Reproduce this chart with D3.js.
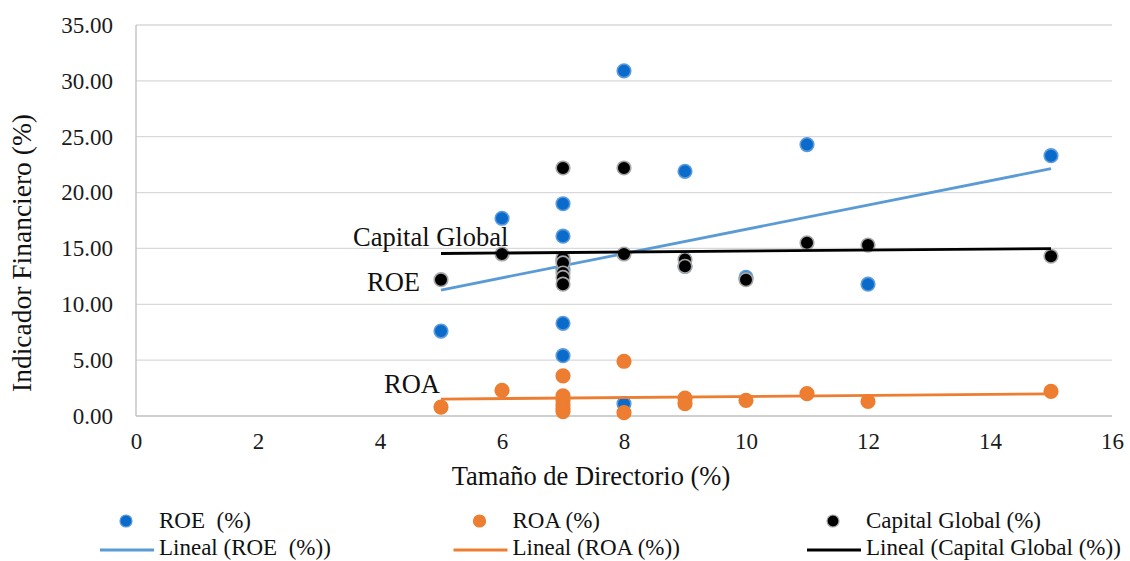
<!DOCTYPE html>
<html>
<head>
<meta charset="utf-8">
<script src="https://cdn.jsdelivr.net/npm/d3@7/dist/d3.min.js"></script>
<style>
  html, body { margin: 0; padding: 0; background: #fff; }
  svg { display: block; }
  svg text { font-family: "Liberation Serif", "Times New Roman", serif; white-space: pre; }
</style>
</head>
<body>
<svg id="chart" width="1130" height="561"></svg>
<script>
// Board size (x) for each observation
const boardSize = [5, 6, 7, 7, 7, 7, 7, 7, 8, 8, 9, 9, 10, 11, 12, 15];
// Financial indicators (%) for each observation
const roe = [7.6, 17.7, 19.0, 16.1, 13.9, 13.1, 8.3, 5.4, 30.9, 1.1, 21.9, 13.4, 12.4, 24.3, 11.8, 23.3];
const roa = [0.8, 2.3, 3.6, 1.8, 1.4, 1.0, 0.7, 0.4, 4.9, 0.3, 1.6, 1.1, 1.4, 2.0, 1.3, 2.2];
const capitalGlobal = [12.2, 14.5, 22.2, 14.1, 13.7, 12.8, 12.4, 11.8, 22.2, 14.5, 14.0, 13.4, 12.2, 15.5, 15.3, 14.3];

const xTicks = [0, 2, 4, 6, 8, 10, 12, 14, 16];
const yTicks = [0, 5, 10, 15, 20, 25, 30, 35];

const series = [
  { name: "ROE  (%)", trend: "Lineal (ROE  (%))", values: roe, fill: "#0B6BCB", stroke: "#5C9BDD", line: "#5B9BD5" },
  { name: "ROA (%)", trend: "Lineal (ROA (%))", values: roa, fill: "#ED7D31", stroke: "#ED7D31", line: "#ED7D31" },
  { name: "Capital Global (%)", trend: "Lineal (Capital Global (%))", values: capitalGlobal, fill: "#000000", stroke: "#A6A6A6", line: "#000000" }
];

const FONT = '"Liberation Serif", "Times New Roman", serif';
const svg = d3.select("#chart");
const x = d3.scaleLinear().domain([0, 16]).range([136, 1112]);
const y = d3.scaleLinear().domain([0, 35]).range([416, 25]);

// Horizontal gridlines
svg.append("g").selectAll("line").data(yTicks.filter(d => d > 0)).join("line")
  .attr("x1", x(0)).attr("x2", x(16))
  .attr("y1", d => y(d)).attr("y2", d => y(d))
  .attr("stroke", "#D9D9D9").attr("stroke-width", 1.3);

// Axis lines
svg.append("line").attr("x1", x(0)).attr("x2", x(0)).attr("y1", y(35)).attr("y2", y(0))
  .attr("stroke", "#BFBFBF").attr("stroke-width", 1.3);
svg.append("line").attr("x1", x(0)).attr("x2", x(16)).attr("y1", y(0)).attr("y2", y(0))
  .attr("stroke", "#BFBFBF").attr("stroke-width", 1.5);

// Y axis tick labels
const yAxis = d3.axisLeft(y).tickValues(yTicks).tickFormat(d3.format(".2f")).tickSize(0).tickPadding(0);
svg.append("g").attr("transform", `translate(${x(0) - 23},0)`).call(yAxis)
  .attr("font-family", null).attr("font-size", null)
  .call(g => g.select(".domain").remove())
  .selectAll("text").style("font-family", FONT).style("font-size", "23px").attr("fill", "#1a1a1a");

// X axis tick labels
const xAxis = d3.axisBottom(x).tickValues(xTicks).tickFormat(d3.format("d")).tickSize(0).tickPadding(0);
svg.append("g").attr("transform", `translate(0,${y(0) + 17})`).call(xAxis)
  .attr("font-family", null).attr("font-size", null)
  .call(g => g.select(".domain").remove())
  .selectAll("text").style("font-family", FONT).style("font-size", "23px").attr("fill", "#1a1a1a");

// Axis titles
svg.append("text").attr("x", 591).attr("y", 485).attr("text-anchor", "middle")
  .style("font-size", "26.5px").attr("fill", "#111").text("Tamaño de Directorio (%)");
svg.append("text").attr("transform", "translate(31,253) rotate(-90)").attr("text-anchor", "middle")
  .style("font-size", "27.5px").attr("fill", "#111").text("Indicador Financiero (%)");

// Least squares fit
function linearFit(xs, ys) {
  const mx = d3.mean(xs), my = d3.mean(ys);
  let sxy = 0, sxx = 0;
  xs.forEach((xv, i) => { sxy += (xv - mx) * (ys[i] - my); sxx += (xv - mx) * (xv - mx); });
  const slope = sxy / sxx;
  return xv => my + slope * (xv - mx);
}

const xExtent = d3.extent(boardSize);

series.forEach(s => {
  const pts = boardSize.map((b, i) => ({ b, v: s.values[i] }));
  svg.append("g").selectAll("circle").data(pts).join("circle")
    .attr("cx", d => x(d.b)).attr("cy", d => y(d.v)).attr("r", 6.8)
    .attr("fill", s.fill).attr("stroke", s.stroke).attr("stroke-width", 1.6);
  const fit = linearFit(boardSize, s.values);
  svg.append("line")
    .attr("x1", x(xExtent[0])).attr("y1", y(fit(xExtent[0])))
    .attr("x2", x(xExtent[1])).attr("y2", y(fit(xExtent[1])))
    .attr("stroke", s.line).attr("stroke-width", 2.8);
});

// Series labels placed beside the trendlines
const labelPos = [
  { text: "ROE", x: 367, y: 291 },
  { text: "ROA", x: 384, y: 393 },
  { text: "Capital Global", x: 353, y: 246 }
];
svg.append("g").selectAll("text").data(labelPos).join("text")
  .attr("x", d => d.x).attr("y", d => d.y).style("font-size", "26.5px").attr("fill", "#111")
  .text(d => d.text);

// Legend
const legendX = [126, 479.5, 833];
const legend = svg.append("g");
series.forEach((s, i) => {
  const lx = legendX[i];
  legend.append("circle").attr("cx", lx).attr("cy", 521).attr("r", 6)
    .attr("fill", s.fill).attr("stroke", s.stroke).attr("stroke-width", 1.2);
  legend.append("text").attr("x", lx + 33).attr("y", 528).style("font-size", "23px").attr("fill", "#111")
    .text(s.name);
  legend.append("line").attr("x1", lx - 26).attr("x2", lx + 28).attr("y1", 550).attr("y2", 550)
    .attr("stroke", s.line).attr("stroke-width", 3);
  legend.append("text").attr("x", lx + 33).attr("y", 555).style("font-size", "23px").attr("fill", "#111")
    .text(s.trend);
});
</script>
</body>
</html>
